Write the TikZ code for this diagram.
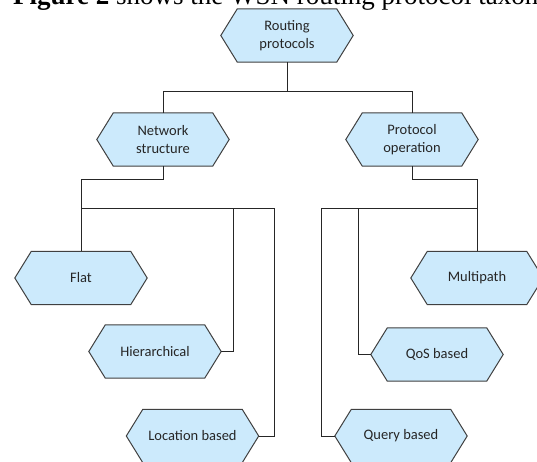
\documentclass[tikz,border=0pt]{standalone}
\usepackage{fontspec}
\setmainfont{Liberation Serif}
\newfontfamily\boxfont{Carlito}
\usetikzlibrary{calc,backgrounds}

\definecolor{hexfill}{RGB}{204,234,252}
\definecolor{hexline}{RGB}{64,64,64}
\definecolor{boxtext}{RGB}{38,38,38}

\tikzset{
  hexbox/.style={rectangle, minimum width=132pt, minimum height=53pt,
    inner sep=0pt, align=center, text=boxtext,
    font=\boxfont\fontsize{14.5}{18}\selectfont},
  hexshape/.style={fill=hexfill, draw=hexline, line width=1pt},
  link/.style={draw=black!85, line width=1pt}
}

% hexagonal outline around a named node
\newcommand{\hexaround}[1]{%
  \path[hexshape] (#1.west) -- ($(#1.north west)+(16.5,0)$)
    -- ($(#1.north east)+(-16.5,0)$) -- (#1.east)
    -- ($(#1.south east)+(-16.5,0)$) -- ($(#1.south west)+(16.5,0)$) -- cycle;}

\begin{document}
\begin{tikzpicture}[x=1pt,y=-1pt]
\useasboundingbox (0,0) rectangle (537,462);
\clip (0,0) rectangle (537,462);

% running text line above the figure
\node[anchor=base west, inner sep=0pt, font=\fontsize{27}{32}\selectfont]
  (caption) at (13,4.5) {\textbf{Figure 2} shows the WSN routing protocol taxon};

% nodes
\node[hexbox] (r)    at (287,35.5)  {Routing\\protocols};
\node[hexbox] (ns)   at (163,139.5) {Network\\structure};
\node[hexbox] (po)   at (412,139.5) {Protocol\\operation};
\node[hexbox] (flat) at (81,278)    {Flat};
\node[hexbox] (hier) at (155,351.5) {Hierarchical};
\node[hexbox] (loc)  at (192.5,436) {Location based};
\node[hexbox] (mp)   at (477,278)   {Multipath};
\node[hexbox] (qos)  at (437,354.5) {QoS based};
\node[hexbox] (qry)  at (401,436)   {Query based};

\begin{scope}[on background layer]
  \foreach \n in {r,ns,po,flat,hier,loc,mp,qos,qry} {\hexaround{\n}}
\end{scope}

% junction points
\coordinate (j1) at (287,92);
\coordinate (lbar) at (81,208);
\coordinate (rbar) at (477,208);

% connectors
\draw[link] (r.south) -- (j1) -| (ns.north);
\draw[link] (j1) -| (po.north);

\draw[link] (ns.south) -- ++(0,13) -| (flat.north);
\draw[link] (hier.east) -- ++(12,0) |- (lbar);
\draw[link] (loc.east) -- ++(16,0) |- (lbar);

\draw[link] (po.south) -- ++(0,13) -| (mp.north);
\draw[link] (qos.west) -- ++(-12,0) |- (rbar);
\draw[link] (qry.west) -- ++(-13,0) |- (rbar);
\end{tikzpicture}
\end{document}
